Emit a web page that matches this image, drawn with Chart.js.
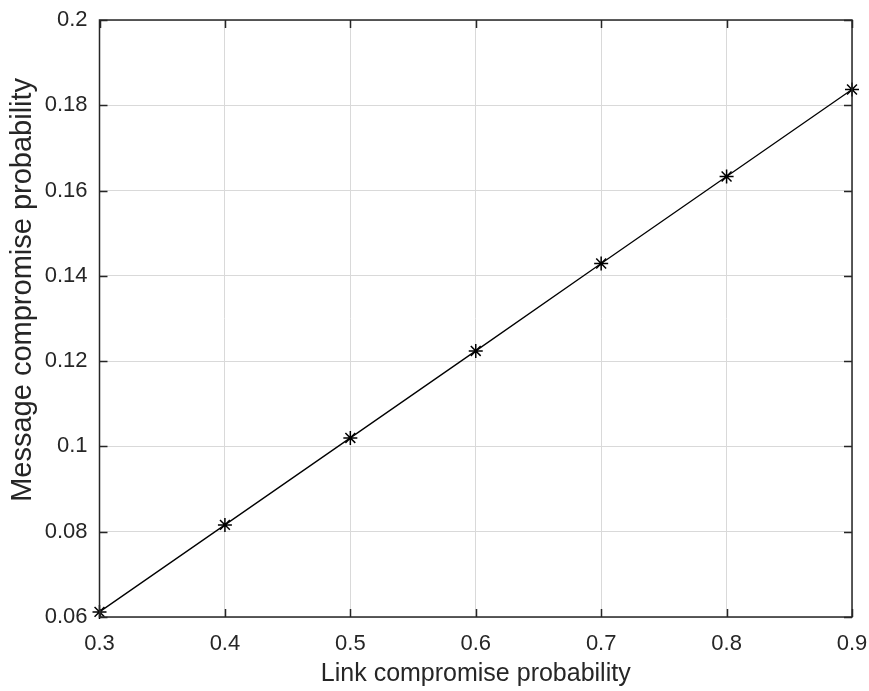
<!DOCTYPE html>
<html>
<head>
<meta charset="utf-8">
<script src="https://cdn.jsdelivr.net/npm/chart.js@4"></script>
<style>
  html, body { margin: 0; padding: 0; background: #fff; }
  #wrap { width: 869px; height: 691px; }
</style>
</head>
<body>
<div id="wrap"><canvas id="chart" width="869" height="691"></canvas></div>
<script>
// data
const linkProb = [0.3, 0.4, 0.5, 0.6, 0.7, 0.8, 0.9]
const messageProb = [0.0612, 0.0816, 0.102, 0.1224, 0.1429, 0.1633, 0.1837]

const xTicks = [0.3, 0.4, 0.5, 0.6, 0.7, 0.8, 0.9]
const xTickLabels = ["0.3", "0.4", "0.5", "0.6", "0.7", "0.8", "0.9"]
const yTicks = [0.06, 0.08, 0.1, 0.12, 0.14, 0.16, 0.18, 0.2]
const yTickLabels = ["0.06", "0.08", "0.1", "0.12", "0.14", "0.16", "0.18", "0.2"]

const xTitle = "Link compromise probability"
const yTitle = "Message compromise probability"

const textColor = "#262626"
const axisColor = "#262626"
const gridColor = "#d9d9d9"
const fontFamily = "Arial, 'Liberation Sans', Helvetica, sans-serif"

// frame with inward ticks, MATLAB style, plus the y label
const boxPlugin = {
    id: "box",
    afterDatasetsDraw(chart) {
        const { ctx, chartArea: a, scales } = chart
        const len = 8
        ctx.save()
        ctx.strokeStyle = axisColor
        ctx.lineWidth = 1.5
        ctx.strokeRect(a.left, a.top, a.right - a.left, a.bottom - a.top)
        ctx.beginPath()
        xTicks.forEach(v => {
            const x = Math.round(scales.x.getPixelForValue(v)) + 0.5
            ctx.moveTo(x, a.bottom); ctx.lineTo(x, a.bottom - len)
            ctx.moveTo(x, a.top); ctx.lineTo(x, a.top + len)
        })
        yTicks.forEach(v => {
            const y = Math.round(scales.y.getPixelForValue(v)) + 0.5
            ctx.moveTo(a.left, y); ctx.lineTo(a.left + len, y)
            ctx.moveTo(a.right, y); ctx.lineTo(a.right - len, y)
        })
        ctx.stroke()

        // y label sits a bit above the axis middle in the original
        ctx.translate(23, a.top + (a.bottom - a.top) * 0.452)
        ctx.rotate(-Math.PI / 2)
        ctx.fillStyle = textColor
        ctx.font = "29px " + fontFamily
        ctx.textAlign = "center"
        ctx.textBaseline = "middle"
        ctx.fillText(yTitle, 0, 0)
        ctx.restore()
    }
}

new Chart(document.getElementById("chart"), {
    type: "line",
    data: {
        labels: linkProb,
        datasets: [{
            data: linkProb.map((x, i) => ({ x: x, y: messageProb[i] })),
            borderColor: "#000",
            borderWidth: 1.3,
            pointStyle: "star",
            pointRadius: 7,
            pointBorderWidth: 1.5,
            pointBorderColor: "#000",
            pointBackgroundColor: "#000",
            tension: 0,
            clip: false
        }]
    },
    options: {
        responsive: false,
        animation: false,
        layout: { padding: { left: 0, right: 17, top: 20, bottom: 0 } },
        plugins: {
            legend: { display: false },
            tooltip: { enabled: false }
        },
        scales: {
            x: {
                type: "linear",
                min: 0.3,
                max: 0.9,
                afterBuildTicks: s => { s.ticks = xTicks.map(v => ({ value: v })) },
                afterFit: s => { s.height = 74; s.paddingLeft = 0; s.paddingRight = 0 },
                grid: { color: gridColor, lineWidth: 1, drawTicks: false },
                border: { display: false },
                ticks: {
                    color: textColor,
                    font: { family: fontFamily, size: 22 },
                    padding: 14,
                    maxRotation: 0,
                    callback: (v, i) => xTickLabels[i]
                },
                title: {
                    display: true,
                    text: xTitle,
                    color: textColor,
                    font: { family: fontFamily, size: 25 },
                    padding: { top: 0, bottom: 2 }
                }
            },
            y: {
                type: "linear",
                min: 0.06,
                max: 0.2,
                afterBuildTicks: s => { s.ticks = yTicks.map(v => ({ value: v })) },
                afterFit: s => { s.width = 99.5; s.paddingTop = 0; s.paddingBottom = 0 },
                grid: { color: gridColor, lineWidth: 1, drawTicks: false },
                border: { display: false },
                ticks: {
                    color: textColor,
                    font: { family: fontFamily, size: 22 },
                    padding: 12,
                    callback: (v, i) => yTickLabels[i]
                },
                title: { display: false }
            }
        }
    },
    plugins: [boxPlugin]
})
</script>
</body>
</html>
